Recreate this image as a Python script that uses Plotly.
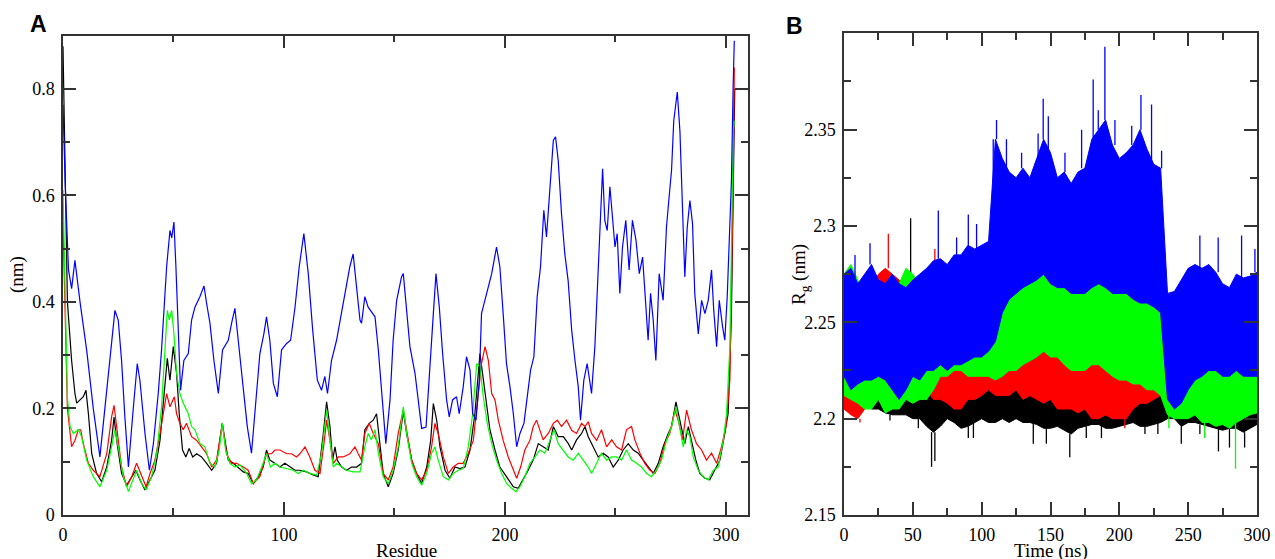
import plotly.graph_objects as go

# ---------------- Panel A : RMSF per residue ----------------
black_res = [0, 1, 2, 3.9, 5.4, 6.2, 7.7, 9.2, 10.4, 11.5, 13.0, 15.2, 17.5, 19.8, 22.0, 23.1, 24.3, 26.5, 28.8, 31.1,
             33.0, 34.8, 37.1, 39.4, 41.6, 43.9, 46.1, 47.2, 48.4, 49.9, 51.4, 52.6, 54.1, 55.6, 57.1, 58.7, 60.5, 62.7,
             65.0, 67.3, 69.5, 71.0, 72.1, 73.3, 74.8, 77.1, 79.3, 81.6, 83.8, 86.1, 88.4, 90.6, 92.1, 93.6, 95.9, 98.2,
             100.4, 102.7, 105.0, 107.2, 110.2, 113.2, 115.5, 117.8, 119.3, 120.8, 122.0, 123.1, 124.1, 126.1, 128.3,
             130.6, 132.9, 135.1, 136.6, 138.6, 140.4, 141.9, 143.4, 144.9, 147.2, 149.4, 151.7, 154.0, 155.5, 157.8,
             160.0, 162.3, 164.6, 166.4, 167.6, 169.1, 170.6, 172.9, 175.1, 177.4, 179.6, 181.9, 184.2, 186.4, 188.7,
             189.9, 191.4, 193.2, 195.5, 197.7, 200.7, 203.8, 206.0, 208.3, 210.5, 212.8, 215.1, 217.3, 219.6, 221.9,
             224.1, 226.4, 228.7, 230.2, 232.4, 234.7, 236.2, 237.7, 240.0, 242.2, 244.5, 246.7, 249.0, 251.3, 253.5,
             255.8, 258.1, 260.3, 262.6, 264.8, 267.1, 269.4, 271.6, 273.9, 275.4, 277.4, 279.2, 281.4, 283.0, 284.4,
             286.4, 288.2, 290.5, 292.7, 295.0, 297.3, 299.5, 301.0, 302.5, 303.6, 304.0]
black_rmsf = [0.88, 0.62, 0.40, 0.29, 0.228, 0.21, 0.216, 0.222, 0.234, 0.19, 0.115, 0.078, 0.0625, 0.09, 0.14, 0.184,
              0.14, 0.078, 0.056, 0.072, 0.084, 0.066, 0.047, 0.066, 0.084, 0.14, 0.253, 0.294, 0.253, 0.316, 0.266,
              0.19, 0.122, 0.109, 0.125, 0.109, 0.115, 0.109, 0.097, 0.084, 0.097, 0.14, 0.172, 0.14, 0.103, 0.097,
              0.09, 0.081, 0.078, 0.059, 0.072, 0.09, 0.122, 0.103, 0.097, 0.09, 0.097, 0.09, 0.084, 0.084, 0.081,
              0.075, 0.072, 0.153, 0.2125, 0.166, 0.103, 0.128, 0.103, 0.09, 0.084, 0.09, 0.09, 0.097, 0.16, 0.172,
              0.178, 0.19, 0.128, 0.078, 0.053, 0.078, 0.122, 0.195, 0.153, 0.103, 0.078, 0.059, 0.09, 0.14, 0.209,
              0.178, 0.128, 0.084, 0.069, 0.09, 0.087, 0.09, 0.122, 0.19, 0.303, 0.266, 0.216, 0.16, 0.122, 0.09,
              0.072, 0.053, 0.05, 0.066, 0.084, 0.103, 0.134, 0.128, 0.122, 0.166, 0.147, 0.147, 0.134, 0.122, 0.141,
              0.153, 0.166, 0.147, 0.128, 0.109, 0.116, 0.109, 0.09, 0.103, 0.122, 0.134, 0.122, 0.116, 0.103, 0.09,
              0.078, 0.097, 0.128, 0.153, 0.166, 0.2125, 0.178, 0.134, 0.166, 0.141, 0.103, 0.078, 0.069, 0.066,
              0.084, 0.103, 0.153, 0.19, 0.378, 0.69, 0.80]

red_res = [0, 1, 2, 3.9, 5.4, 6.9, 8.0, 9.2, 11.5, 13.7, 16.7, 19.8, 22.0, 23.1, 24.6, 26.5, 28.8, 31.1, 33.3, 35.6,
           37.6, 39.4, 41.6, 43.9, 45.7, 46.9, 48.4, 50.4, 51.4, 52.9, 54.4, 55.9, 58.2, 60.5, 62.7, 65.0, 67.3, 69.5,
           72.1, 74.0, 76.3, 78.6, 81.6, 83.8, 86.1, 89.1, 92.1, 94.4, 95.9, 98.2, 101.2, 103.4, 105.7, 107.2, 109.5,
           111.7, 114.0, 116.3, 118.1, 119.3, 120.8, 122.3, 124.6, 126.8, 129.8, 132.1, 133.6, 135.1, 136.6, 138.6,
           140.4, 142.7, 144.9, 147.2, 149.4, 151.7, 154.0, 155.5, 157.8, 160.0, 162.3, 164.6, 166.8, 168.3, 169.8,
           172.1, 174.4, 176.6, 178.9, 181.1, 183.4, 185.7, 187.9, 189.4, 191.0, 192.5, 194.0, 195.5, 197.0, 199.2,
           201.5, 203.8, 205.3, 207.1, 209.0, 211.3, 212.8, 214.3, 215.8, 217.3, 219.6, 221.9, 223.7, 225.6, 227.9,
           230.2, 232.4, 234.7, 236.2, 237.7, 239.2, 241.5, 243.7, 246.0, 248.3, 250.5, 252.8, 255.0, 257.3, 258.8,
           261.1, 263.3, 265.6, 267.9, 270.1, 272.4, 274.6, 276.9, 278.4, 280.4, 282.2, 284.4, 286.7, 289.0, 291.2,
           293.5, 295.8, 298.0, 300.0, 301.8, 303.3, 303.8]
red_rmsf = [0.55, 0.35, 0.20, 0.128, 0.14, 0.16, 0.16, 0.134, 0.097, 0.084, 0.072, 0.115, 0.184, 0.206, 0.153, 0.09,
            0.053, 0.072, 0.097, 0.072, 0.053, 0.078, 0.103, 0.153, 0.197, 0.228, 0.203, 0.222, 0.19, 0.172, 0.16,
            0.172, 0.147, 0.14, 0.128, 0.115, 0.09, 0.103, 0.172, 0.115, 0.097, 0.097, 0.09, 0.084, 0.059, 0.072,
            0.115, 0.115, 0.122, 0.122, 0.115, 0.115, 0.109, 0.115, 0.128, 0.109, 0.084, 0.078, 0.134, 0.178, 0.14,
            0.097, 0.109, 0.109, 0.115, 0.128, 0.115, 0.103, 0.153, 0.172, 0.153, 0.134, 0.078, 0.066, 0.09, 0.153,
            0.197, 0.16, 0.103, 0.078, 0.066, 0.084, 0.128, 0.172, 0.153, 0.109, 0.078, 0.09, 0.097, 0.097, 0.116,
            0.14, 0.222, 0.284, 0.316, 0.29, 0.228, 0.216, 0.178, 0.14, 0.109, 0.084, 0.069, 0.09, 0.122, 0.14,
            0.166, 0.178, 0.16, 0.141, 0.153, 0.172, 0.178, 0.166, 0.178, 0.159, 0.153, 0.172, 0.166, 0.175, 0.153,
            0.14, 0.16, 0.128, 0.141, 0.128, 0.122, 0.16, 0.166, 0.141, 0.116, 0.097, 0.084, 0.078, 0.097, 0.134,
            0.153, 0.197, 0.178, 0.141, 0.197, 0.16, 0.134, 0.122, 0.103, 0.116, 0.097, 0.128, 0.166, 0.253, 0.628,
            0.84]

green_res = [0, 1, 2, 3.2, 4.7, 7.0, 8.4, 10.7, 13.7, 16.7, 19.8, 22.0, 23.5, 25.0, 27.3, 29.6, 31.5, 33.3, 35.6,
             37.6, 40.1, 42.4, 44.6, 46.1, 47.2, 48.1, 49.2, 50.2, 51.4, 52.9, 54.4, 56.7, 58.2, 59.7, 62.0, 64.2,
             66.5, 68.8, 70.7, 72.1, 73.6, 75.5, 77.8, 80.1, 83.1, 85.3, 87.6, 89.9, 92.1, 93.9, 95.9, 98.2, 101.2,
             104.2, 106.5, 108.7, 111.7, 114.8, 117.0, 119.3, 120.8, 122.3, 123.8, 126.1, 128.3, 131.3, 134.4, 136.6,
             138.1, 139.6, 141.2, 142.7, 144.9, 147.2, 149.4, 151.7, 154.0, 155.5, 157.8, 160.0, 162.3, 164.6, 166.8,
             168.3, 169.8, 172.1, 174.4, 176.6, 178.9, 181.1, 183.4, 185.4, 187.2, 188.7, 190.2, 192.0, 194.0, 196.2,
             198.5, 200.8, 203.0, 205.0, 206.8, 209.0, 211.3, 213.6, 215.8, 218.1, 220.4, 222.2, 224.1, 226.4, 228.6,
             230.9, 233.2, 235.4, 237.7, 239.2, 241.5, 243.7, 246.0, 248.3, 250.5, 252.8, 255.0, 257.3, 259.6, 261.8,
             264.1, 266.3, 268.6, 270.9, 273.1, 275.4, 277.4, 278.9, 280.7, 282.2, 283.7, 285.2, 287.5, 289.7, 292.0,
             294.3, 296.5, 298.8, 300.3, 301.8, 303.3, 303.8]
green_rmsf = [0.61, 0.40, 0.22, 0.166, 0.153, 0.16, 0.147, 0.103, 0.072, 0.053, 0.084, 0.128, 0.16, 0.128, 0.072,
              0.044, 0.066, 0.084, 0.059, 0.047, 0.072, 0.115, 0.203, 0.31, 0.384, 0.366, 0.384, 0.34, 0.266, 0.228,
              0.21, 0.19, 0.166, 0.16, 0.134, 0.128, 0.097, 0.09, 0.122, 0.172, 0.122, 0.097, 0.09, 0.094, 0.078,
              0.059, 0.066, 0.09, 0.115, 0.09, 0.097, 0.09, 0.087, 0.084, 0.078, 0.084, 0.078, 0.075, 0.115, 0.197,
              0.141, 0.09, 0.097, 0.09, 0.084, 0.081, 0.081, 0.128, 0.153, 0.141, 0.16, 0.116, 0.072, 0.059, 0.084,
              0.128, 0.203, 0.153, 0.097, 0.072, 0.056, 0.078, 0.116, 0.128, 0.103, 0.072, 0.066, 0.078, 0.084, 0.087,
              0.128, 0.19, 0.284, 0.278, 0.222, 0.172, 0.134, 0.103, 0.078, 0.059, 0.05, 0.044, 0.053, 0.072, 0.097,
              0.109, 0.122, 0.116, 0.14, 0.16, 0.134, 0.122, 0.109, 0.103, 0.116, 0.103, 0.09, 0.078, 0.097, 0.116,
              0.103, 0.109, 0.109, 0.103, 0.122, 0.103, 0.097, 0.09, 0.078, 0.072, 0.084, 0.103, 0.14, 0.166, 0.203,
              0.166, 0.128, 0.16, 0.147, 0.109, 0.084, 0.072, 0.066, 0.084, 0.09, 0.14, 0.19, 0.316, 0.72, 0.74]

blue_res = [0, 1, 2.5, 3.9, 5.4, 7.7, 10.7, 13.7, 16.7, 19.8, 23.5, 25.0, 26.5, 28.0, 29.6, 31.8, 33.6, 34.8, 37.1,
            39.1, 40.9, 43.1, 44.6, 46.9, 48.4, 49.2, 50.2, 51.1, 52.2, 53.2, 54.7, 56.7, 58.2, 59.7, 62.0, 63.8,
            65.0, 66.5, 68.3, 70.3, 72.2, 74.8, 76.3, 77.8, 79.3, 81.3, 83.4, 85.3, 87.3, 89.1, 90.9, 92.1, 93.6,
            95.2, 97.0, 98.9, 101.2, 103.0, 105.0, 106.9, 109.0, 111.0, 113.0, 115.1, 117.0, 118.5, 119.7, 121.5,
            123.8, 126.1, 128.3, 129.8, 131.3, 132.8, 134.4, 135.1, 136.6, 138.1, 140.1, 141.2, 142.7, 144.2, 146.1,
            148.0, 149.4, 151.0, 153.2, 154.0, 155.5, 157.0, 159.3, 160.8, 162.3, 164.3, 165.8, 167.6, 168.8, 170.3,
            171.8, 173.6, 174.8, 176.3, 178.1, 179.3, 181.1, 182.6, 184.2, 185.4, 186.9, 188.4, 189.4, 191.0, 192.0,
            194.0, 196.2, 197.7, 199.2, 200.7, 202.3, 203.8, 205.3, 206.8, 208.6, 209.8, 211.6, 213.1, 214.6, 216.1,
            217.6, 218.8, 220.4, 221.9, 222.9, 224.1, 225.6, 227.1, 228.6, 230.2, 231.7, 233.2, 234.2, 235.7, 237.2,
            239.2, 240.7, 242.2, 243.3, 244.2, 245.2, 246.3, 247.5, 249.0, 249.8, 250.8, 252.0, 253.2, 254.7, 256.2,
            257.7, 259.3, 260.8, 262.3, 263.8, 264.8, 265.9, 267.1, 268.3, 269.8, 271.6, 273.1, 274.3, 275.4, 276.4,
            278.0, 279.2, 280.4, 281.4, 282.5, 283.7, 284.9, 285.9, 287.5, 289.0, 290.5, 292.0, 293.5, 294.5, 295.8,
            297.0, 298.5, 299.5, 300.6, 301.8, 302.5, 303.3, 303.8]
blue_rmsf = [0.77, 0.62, 0.46, 0.425, 0.478, 0.40, 0.31, 0.20, 0.109, 0.24, 0.384, 0.366, 0.29, 0.184, 0.09, 0.20,
             0.284, 0.253, 0.153, 0.084, 0.134, 0.228, 0.31, 0.466, 0.534, 0.52, 0.55, 0.466, 0.34, 0.234, 0.29,
             0.303, 0.366, 0.39, 0.41, 0.43, 0.397, 0.36, 0.29, 0.228, 0.31, 0.328, 0.36, 0.388, 0.328, 0.247, 0.166,
             0.116, 0.216, 0.303, 0.34, 0.372, 0.328, 0.247, 0.222, 0.31, 0.322, 0.328, 0.39, 0.466, 0.528, 0.453,
             0.347, 0.253, 0.234, 0.26, 0.228, 0.29, 0.328, 0.384, 0.434, 0.466, 0.49, 0.434, 0.366, 0.36, 0.41, 0.39,
             0.378, 0.372, 0.31, 0.228, 0.134, 0.216, 0.328, 0.403, 0.447, 0.453, 0.378, 0.316, 0.266, 0.216, 0.1625,
             0.165, 0.253, 0.378, 0.453, 0.39, 0.303, 0.216, 0.184, 0.216, 0.222, 0.19, 0.24, 0.297, 0.272, 0.19,
             0.178, 0.253, 0.378, 0.403, 0.42, 0.453, 0.503, 0.466, 0.378, 0.284, 0.24, 0.19, 0.128, 0.153, 0.172,
             0.216, 0.272, 0.297, 0.41, 0.466, 0.572, 0.522, 0.61, 0.703, 0.71, 0.666, 0.566, 0.49, 0.44, 0.347, 0.29,
             0.24, 0.178, 0.253, 0.284, 0.228, 0.316, 0.453, 0.566, 0.65, 0.553, 0.534, 0.616, 0.534, 0.503, 0.528,
             0.416, 0.503, 0.553, 0.46, 0.553, 0.516, 0.453, 0.484, 0.39, 0.328, 0.416, 0.366, 0.29, 0.453, 0.403,
             0.54, 0.597, 0.647, 0.74, 0.794, 0.72, 0.578, 0.447, 0.54, 0.59, 0.547, 0.416, 0.34, 0.403, 0.378, 0.403,
             0.46, 0.384, 0.316, 0.403, 0.353, 0.328, 0.41, 0.547, 0.628, 0.81, 0.89]

# ---------------- Panel B : Rg vs time (envelopes of the dense traces) ----------------
time_ns = [0, 5, 10, 15, 20, 25, 30, 35, 40, 45, 50, 55, 60, 65, 70, 75, 80, 85, 90, 95,
           100, 105, 110, 115, 120, 125, 130, 135, 140, 145, 150, 155, 160, 165, 170, 175, 180, 185, 190, 195,
           200, 205, 210, 215, 220, 225, 230, 235, 240, 245, 250, 255, 260, 265, 270, 275, 280, 285, 290, 295, 300]

black_hi = [2.255, 2.250, 2.250, 2.245, 2.250, 2.255, 2.260, 2.260, 2.262, 2.262,
            2.258, 2.255, 2.252, 2.250, 2.245, 2.240, 2.235, 2.235, 2.240, 2.240,
            2.242, 2.250, 2.258, 2.258, 2.255, 2.252, 2.250, 2.250, 2.250, 2.252,
            2.245, 2.242, 2.240, 2.240, 2.240, 2.242, 2.245, 2.245, 2.240, 2.238,
            2.240, 2.238, 2.235, 2.235, 2.235, 2.235, 2.235, 2.230, 2.230, 2.230,
            2.230, 2.228, 2.228, 2.230, 2.230, 2.228, 2.228, 2.230, 2.230, 2.230, 2.232]
black_lo = [2.205, 2.205, 2.207, 2.210, 2.205, 2.205, 2.203, 2.202, 2.202, 2.202,
            2.200, 2.200, 2.196, 2.193, 2.196, 2.200, 2.198, 2.195, 2.196, 2.198,
            2.200, 2.198, 2.198, 2.200, 2.198, 2.200, 2.198, 2.198, 2.197, 2.195,
            2.195, 2.196, 2.194, 2.192, 2.195, 2.196, 2.197, 2.197, 2.195, 2.195,
            2.196, 2.197, 2.198, 2.196, 2.196, 2.197, 2.198, 2.200, 2.200, 2.196,
            2.198, 2.198, 2.197, 2.196, 2.195, 2.194, 2.195, 2.195, 2.193, 2.195, 2.197]
red_hi = [2.260, 2.260, 2.260, 2.260, 2.268, 2.275, 2.278, 2.275, 2.272, 2.268,
          2.266, 2.266, 2.272, 2.272, 2.262, 2.255, 2.245, 2.245, 2.250, 2.255,
          2.260, 2.262, 2.268, 2.270, 2.268, 2.265, 2.262, 2.265, 2.268, 2.272,
          2.260, 2.255, 2.255, 2.255, 2.258, 2.260, 2.265, 2.268, 2.265, 2.260,
          2.258, 2.260, 2.268, 2.275, 2.272, 2.268, 2.265, 2.262, 2.258, 2.250,
          2.245, 2.250, 2.245, 2.240, 2.240, 2.245, 2.240, 2.250, 2.240, 2.238, 2.240]
red_lo = [2.205, 2.202, 2.200, 2.205, 2.210, 2.215, 2.215, 2.215, 2.212, 2.215,
          2.215, 2.215, 2.215, 2.210, 2.210, 2.208, 2.205, 2.205, 2.210, 2.210,
          2.212, 2.215, 2.212, 2.212, 2.212, 2.215, 2.210, 2.212, 2.210, 2.208,
          2.210, 2.205, 2.205, 2.205, 2.203, 2.205, 2.200, 2.200, 2.202, 2.200,
          2.200, 2.200, 2.205, 2.208, 2.208, 2.210, 2.212, 2.205, 2.205, 2.205,
          2.205, 2.203, 2.205, 2.205, 2.203, 2.205, 2.200, 2.203, 2.205, 2.205, 2.205]
green_hi = [2.275, 2.280, 2.272, 2.265, 2.260, 2.260, 2.262, 2.265, 2.270, 2.278,
            2.275, 2.270, 2.272, 2.260, 2.260, 2.255, 2.255, 2.255, 2.260, 2.260,
            2.262, 2.265, 2.270, 2.272, 2.275, 2.278, 2.280, 2.282, 2.285, 2.290,
            2.280, 2.282, 2.280, 2.278, 2.275, 2.272, 2.275, 2.275, 2.272, 2.270,
            2.272, 2.270, 2.270, 2.268, 2.265, 2.265, 2.262, 2.240, 2.235, 2.240,
            2.235, 2.240, 2.238, 2.235, 2.232, 2.240, 2.235, 2.238, 2.232, 2.240, 2.240]
green_lo = [2.212, 2.210, 2.208, 2.205, 2.205, 2.210, 2.203, 2.205, 2.205, 2.210,
            2.208, 2.210, 2.210, 2.215, 2.222, 2.222, 2.225, 2.225, 2.222, 2.222,
            2.222, 2.222, 2.220, 2.222, 2.225, 2.225, 2.228, 2.230, 2.232, 2.235,
            2.232, 2.232, 2.228, 2.225, 2.225, 2.225, 2.228, 2.228, 2.225, 2.222,
            2.220, 2.220, 2.218, 2.218, 2.215, 2.215, 2.212, 2.202, 2.200, 2.200,
            2.200, 2.202, 2.198, 2.198, 2.196, 2.197, 2.195, 2.198, 2.200, 2.202, 2.203]
blue_hi = [2.275, 2.278, 2.270, 2.275, 2.280, 2.272, 2.270, 2.275, 2.270, 2.268,
           2.272, 2.275, 2.278, 2.282, 2.283, 2.280, 2.285, 2.285, 2.290, 2.288,
           2.290, 2.292, 2.345, 2.335, 2.328, 2.325, 2.330, 2.325, 2.335, 2.345,
           2.338, 2.325, 2.328, 2.322, 2.328, 2.330, 2.345, 2.350, 2.355, 2.342,
           2.335, 2.338, 2.342, 2.350, 2.340, 2.332, 2.330, 2.265, 2.266, 2.272,
           2.278, 2.280, 2.278, 2.280, 2.276, 2.270, 2.268, 2.275, 2.273, 2.274, 2.276]
blue_lo = [2.222, 2.215, 2.218, 2.220, 2.220, 2.222, 2.220, 2.215, 2.210, 2.215,
           2.222, 2.220, 2.225, 2.225, 2.228, 2.225, 2.228, 2.228, 2.230, 2.232,
           2.232, 2.235, 2.240, 2.255, 2.262, 2.265, 2.268, 2.270, 2.272, 2.275,
           2.270, 2.268, 2.268, 2.265, 2.265, 2.265, 2.268, 2.270, 2.268, 2.265,
           2.265, 2.265, 2.262, 2.260, 2.260, 2.258, 2.255, 2.210, 2.205, 2.208,
           2.215, 2.220, 2.222, 2.225, 2.225, 2.222, 2.222, 2.225, 2.222, 2.222, 2.222]

# individual spikes that stick out of each band (time, Rg tip)
blue_up_t = [8, 18.9, 68.5, 81.8, 90.3, 96.3, 108.4, 110.8, 118, 129, 141, 144.7, 148.4, 160.5, 172.6, 181,
             184.7, 189.5, 196.8, 209, 215.7, 223.4, 230.7, 258.5, 271.8, 288.8, 298.5]
blue_up_v = [2.285, 2.291, 2.308, 2.294, 2.306, 2.301, 2.306, 2.355, 2.345, 2.338, 2.348, 2.366, 2.357, 2.338,
             2.350, 2.376, 2.360, 2.393, 2.355, 2.352, 2.368, 2.363, 2.339, 2.295, 2.294, 2.295, 2.288]
black_up_t = [48.4, 115.7]
black_up_v = [2.304, 2.270]
black_dn_t = [33.4, 54, 63.6, 66, 90.3, 94, 137.5, 147, 164, 176, 187, 218.6, 228, 245, 258.5, 272, 280, 291]
black_dn_v = [2.199, 2.195, 2.175, 2.178, 2.190, 2.190, 2.187, 2.187, 2.180, 2.190, 2.190, 2.192, 2.192, 2.187,
              2.192, 2.183, 2.185, 2.185]
red_up_t = [32.2, 66, 184.7]
red_up_v = [2.296, 2.288, 2.283]
red_dn_t = [11.6, 204]
red_dn_v = [2.198, 2.195]
green_dn_t = [236, 262, 284.4]
green_dn_v = [2.195, 2.190, 2.174]

# ---------------- Axis ticks ----------------
a_xticks = [0, 100, 200, 300]
a_xminor = [50, 150, 250]
a_yticks = [0, 0.2, 0.4, 0.6, 0.8]
a_yticktext = ["0", "0.2", "0.4", "0.6", "0.8"]
a_yminor = [0.1, 0.3, 0.5, 0.7]
b_xticks = [0, 50, 100, 150, 200, 250, 300]
b_xminor = [25, 75, 125, 175, 225, 275]
b_yticks = [2.15, 2.2, 2.25, 2.3, 2.35]
b_yticktext = ["2.15", "2.2", "2.25", "2.3", "2.35"]
b_yminor = [2.175, 2.225, 2.275, 2.325, 2.375]

colors = {"black": "#000000", "red": "#ff0000", "green": "#00ff00", "blue": "#0000ff"}

fig = go.Figure()

for name, xs, ys in [("black", black_res, black_rmsf), ("red", red_res, red_rmsf),
                     ("green", green_res, green_rmsf), ("blue", blue_res, blue_rmsf)]:
    fig.add_trace(go.Scatter(x=xs, y=ys, mode="lines", line=dict(color=colors[name], width=1.2),
                             xaxis="x", yaxis="y", showlegend=False, hoverinfo="skip"))


def spike_trace(ts, vs, base, color):
    xs, ys = [], []
    for t, v in zip(ts, vs):
        i = min(range(len(time_ns)), key=lambda k: abs(time_ns[k] - t))
        xs += [t, t, None]
        ys += [base[i], v, None]
    return go.Scatter(x=xs, y=ys, mode="lines", line=dict(color=color, width=1.3),
                      xaxis="x2", yaxis="y2", showlegend=False, hoverinfo="skip")


bands = [("black", black_hi, black_lo, [(black_up_t, black_up_v, black_hi), (black_dn_t, black_dn_v, black_lo)]),
         ("red", red_hi, red_lo, [(red_up_t, red_up_v, red_hi), (red_dn_t, red_dn_v, red_lo)]),
         ("green", green_hi, green_lo, [(green_dn_t, green_dn_v, green_lo)]),
         ("blue", blue_hi, blue_lo, [(blue_up_t, blue_up_v, blue_hi)])]
for name, hi, lo, spikes in bands:
    fig.add_trace(go.Scatter(x=time_ns + time_ns[::-1], y=hi + lo[::-1], mode="lines",
                             fill="toself", fillcolor=colors[name],
                             line=dict(color=colors[name], width=1),
                             xaxis="x2", yaxis="y2", showlegend=False, hoverinfo="skip"))
    for ts, vs, base in spikes:
        fig.add_trace(spike_trace(ts, vs, base, colors[name]))

W, H = 1275, 559
serif = "Liberation Serif"
tickfont = dict(family=serif, size=18, color="#000000")


def axis_common():
    return dict(showline=True, linecolor="#333333", linewidth=1.5, mirror="allticks",
                ticks="inside", ticklen=13, tickwidth=1.5, tickcolor="#333333", automargin=False,
                showgrid=False, zeroline=False, tickfont=tickfont, ticklabelstandoff=3)


def minor(vals):
    return dict(tickmode="array", tickvals=vals, ticks="inside", ticklen=7, tickwidth=1.5, tickcolor="#333333")


fig.update_layout(
    width=W, height=H, margin=dict(l=0, r=0, t=0, b=0, autoexpand=False),
    paper_bgcolor="white", plot_bgcolor="white",
    xaxis=dict(domain=[63 / W, 748 / W], range=[0, 310], tickmode="array", tickvals=a_xticks,
               minor=minor(a_xminor), anchor="y", **axis_common()),
    yaxis=dict(domain=[1 - 515 / H, 1 - 35.5 / H], range=[0, 0.9], tickmode="array",
               tickvals=a_yticks, ticktext=a_yticktext, minor=minor(a_yminor), anchor="x", **axis_common()),
    xaxis2=dict(domain=[844 / W, 1257 / W], range=[0, 300], tickmode="array", tickvals=b_xticks,
                minor=minor(b_xminor), anchor="y2", **axis_common()),
    yaxis2=dict(domain=[1 - 515 / H, 1 - 33.3 / H], range=[2.15, 2.40], tickmode="array",
                tickvals=b_yticks, ticktext=b_yticktext, minor=minor(b_yminor), anchor="x2", **axis_common()),
)

ann = [
    dict(text="<b>A</b>", x=38.5 / W, y=1 - 24 / H, font=dict(family="Liberation Sans", size=23)),
    dict(text="<b>B</b>", x=794.5 / W, y=1 - 25.5 / H, font=dict(family="Liberation Sans", size=23)),
    dict(text="Residue", x=406 / W, y=1 - 550 / H, font=dict(family=serif, size=19)),
    dict(text="Time (ns)", x=1051 / W, y=1 - 551 / H, font=dict(family=serif, size=19)),
    dict(text="(nm)", x=17 / W, y=1 - 275 / H, textangle=-90, font=dict(family=serif, size=19)),
    dict(text="R<sub>g</sub> (nm)", x=800 / W, y=1 - 275 / H, textangle=-90, font=dict(family=serif, size=19)),
]
for a in ann:
    a.update(xref="paper", yref="paper", showarrow=False, xanchor="center", yanchor="middle")
    a["font"]["color"] = "#000000"
fig.update_layout(annotations=ann)

fig.write_html("out.html", config={"displayModeBar": False},
               post_script="document.body.style.margin='0px';document.body.style.overflow='hidden';")
